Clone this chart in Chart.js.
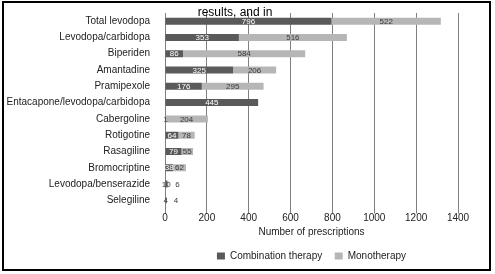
<!DOCTYPE html>
<html>
<head>
<meta charset="utf-8">
<script src="https://cdn.jsdelivr.net/npm/chart.js@4/dist/chart.umd.min.js"></script>
<style>
  html, body { margin: 0; padding: 0; background: #fff; }
  #wrap { position: relative; width: 495px; height: 274px; }
  #frame { position: absolute; left: 2px; top: 1px; width: 485px; height: 266px; border: 2px solid #000; pointer-events: none; }
  canvas { position: absolute; left: 0; top: 0; }
</style>
</head>
<body>
<div id="wrap">
  <canvas id="chart" width="495" height="274"></canvas>
  <div id="frame"></div>
</div>
<script>
const drugs = ['Total levodopa', 'Levodopa/carbidopa', 'Biperiden', 'Amantadine', 'Pramipexole',
  'Entacapone/levodopa/carbidopa', 'Cabergoline', 'Rotigotine', 'Rasagiline', 'Bromocriptine',
  'Levodopa/benserazide', 'Selegiline'];
const combination = [796, 353, 86, 325, 176, 445, 1, 64, 79, 38, 10, 4];
const monotherapy = [522, 516, 584, 206, 295, 0, 204, 78, 55, 62, 6, 4];
const xTicks = [0, 200, 400, 600, 800, 1000, 1200, 1400];
const titleText = 'results, and in';

const FONT = '"Liberation Sans", Arial, sans-serif';

// value labels inside / next to the bar segments
const barLabels = {
  id: 'barLabels',
  afterDatasetsDraw(chart) {
    const ctx = chart.ctx;
    ctx.save();
    ctx.font = '8px ' + FONT;
    ctx.textBaseline = 'middle';
    ctx.textAlign = 'center';
    chart.data.datasets.forEach((ds, di) => {
      const meta = chart.getDatasetMeta(di);
      meta.data.forEach((bar, i) => {
        const v = ds.data[i];
        if (!v) return;
        const txt = String(v);
        const tw = ctx.measureText(txt).width;
        const w = Math.abs(bar.x - bar.base);
        let x = (bar.x + bar.base) / 2;
        let col = di === 0 ? '#ffffff' : '#3a3a3a';
        if (di === 1 && w < tw + 2) x = bar.x + 7 + tw / 2;
        if (di === 0 && w < tw / 2) col = '#3a3a3a';
        ctx.fillStyle = col;
        ctx.fillText(txt, x, bar.y + 0.5);
      });
    });
    ctx.restore();
  }
};

// cut-off heading text at the top of the picture
const headText = {
  id: 'headText',
  afterDraw(chart) {
    const ctx = chart.ctx;
    ctx.save();
    ctx.font = '12px ' + FONT;
    ctx.fillStyle = '#000';
    ctx.textAlign = 'center';
    ctx.textBaseline = 'alphabetic';
    ctx.fillText(titleText, 235, 16);
    ctx.restore();
  }
};

new Chart(document.getElementById('chart'), {
  type: 'bar',
  data: {
    labels: drugs,
    datasets: [
      { label: 'Combination therapy', data: combination, backgroundColor: '#5a5a5a', borderWidth: 0 },
      { label: 'Monotherapy', data: monotherapy, backgroundColor: '#b6b6b6', borderWidth: 0 }
    ]
  },
  options: {
    indexAxis: 'y',
    responsive: false,
    animation: false,
    devicePixelRatio: 1,
    barPercentage: 0.43,
    categoryPercentage: 1,
    layout: { padding: { top: 13, right: 37, bottom: 3, left: 0 } },
    scales: {
      x: {
        stacked: true,
        min: 0,
        max: 1400,
        afterBuildTicks(scale) { scale.ticks = xTicks.map(v => ({ value: v })); },
        grid: { color: '#7f7f7f', lineWidth: 1, tickLength: 5, drawTicks: true },
        border: { display: false },
        ticks: {
          color: '#222',
          padding: -1,
          font: { family: FONT, size: 10 },
          callback: v => String(v)
        },
        title: {
          display: true,
          text: 'Number of prescriptions',
          color: '#222',
          font: { family: FONT, size: 10 },
          padding: { top: 3, bottom: 0 }
        }
      },
      y: {
        stacked: true,
        afterFit(scale) { scale.width = 165; },
        grid: { display: false },
        border: { display: true, color: '#7f7f7f' },
        ticks: { color: '#222', padding: 7, font: { family: FONT, size: 10 } }
      }
    },
    plugins: {
      legend: {
        position: 'bottom',
        fullSize: false,
        labels: {
          boxWidth: 8,
          boxHeight: 7,
          padding: 12.5,
          color: '#222',
          font: { family: FONT, size: 10 }
        }
      },
      title: { display: false },
      tooltip: { enabled: false }
    }
  },
  plugins: [barLabels, headText]
});
</script>
</body>
</html>
